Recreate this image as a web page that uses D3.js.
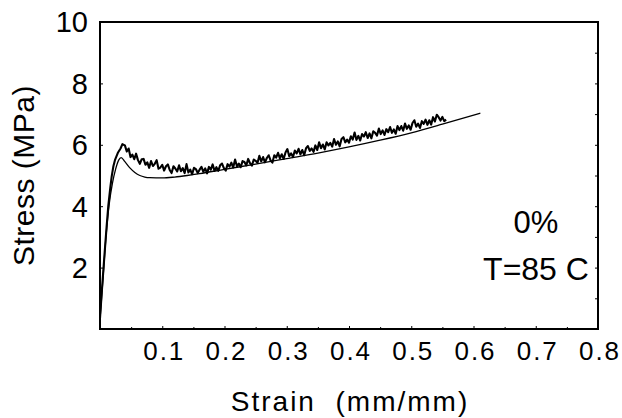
<!DOCTYPE html>
<html>
<head>
<meta charset="utf-8">
<script src="https://cdn.jsdelivr.net/npm/d3@7"></script>
<style>
	body { margin: 0; background: #fff; }
	text { font-family: "Liberation Sans", Arial, sans-serif; fill: #000; }
</style>
</head>
<body>
<div id="myChart"></div>
<script>

	// Axis ticks
	var xTicks = [0.1, 0.2, 0.3, 0.4, 0.5, 0.6, 0.7, 0.8];
	var xMinorTicks = [0.05, 0.15, 0.25, 0.35, 0.45, 0.55, 0.65, 0.75];
	var yTicks = [2, 4, 6, 8, 10];
	var yMinorTicks = [1, 3, 5, 7, 9];

	// Measured curve: loading part (strain, stress)
	var riseStrain = [0, 0.003, 0.0075, 0.0105, 0.0133, 0.0165, 0.0188, 0.0215, 0.024, 0.029, 0.033, 0.036];
	var riseStress = [0.35, 1.25, 2.5, 3.3, 4.0, 4.6, 4.97, 5.3, 5.5, 5.75, 5.88, 6.02];

	// Measured curve: after yield, sampled every 0.003 from strain 0.04
	var measStart = 0.04;
	var measStep = 0.003;
	var measStress = [
		5.98, 5.78, 5.88, 5.60, 5.68, 5.53, 5.71, 5.50, 5.38, 5.53,
		5.54, 5.35, 5.43, 5.25, 5.47, 5.31, 5.38, 5.50, 5.22, 5.26,
		5.35, 5.16, 5.30, 5.36, 5.18, 5.08, 5.30, 5.23, 5.13, 5.33,
		5.14, 5.24, 5.08, 5.37, 5.10, 5.19, 5.04, 5.25, 5.21, 5.08,
		5.19, 5.28, 5.12, 5.23, 5.07, 5.28, 5.19, 5.36, 5.15, 5.27,
		5.15, 5.33, 5.39, 5.24, 5.16, 5.37, 5.29, 5.42, 5.26, 5.52,
		5.30, 5.39, 5.27, 5.47, 5.44, 5.33, 5.54, 5.40, 5.32, 5.52,
		5.48, 5.41, 5.64, 5.46, 5.60, 5.43, 5.57, 5.66, 5.49, 5.42,
		5.66, 5.58, 5.74, 5.56, 5.69, 5.54, 5.75, 5.86, 5.63, 5.72,
		5.60, 5.81, 5.72, 5.87, 5.69, 5.83, 5.66, 5.89, 5.96, 5.80,
		5.88, 5.77, 5.98, 5.83, 6.08, 5.89, 6.01, 5.85, 6.08, 5.98,
		6.06, 5.94, 6.19, 6.00, 6.11, 5.95, 6.19, 6.25, 6.08, 6.17,
		6.07, 6.28, 6.17, 6.40, 6.16, 6.29, 6.14, 6.35, 6.27, 6.41,
		6.22, 6.37, 6.21, 6.44, 6.39, 6.30, 6.53, 6.35, 6.47, 6.32,
		6.51, 6.41, 6.58, 6.39, 6.50, 6.36, 6.61, 6.48, 6.61, 6.46,
		6.69, 6.52, 6.63, 6.49, 6.71, 6.80, 6.59, 6.69, 6.55, 6.77,
		6.68, 6.82, 6.65, 6.80, 6.66, 6.90, 6.76, 6.98, 6.90, 6.79,
		6.91, 6.77, 6.82
	];

	// Model curve (smooth)
	var modelStrain = [0, 0.005, 0.01, 0.015, 0.02, 0.025, 0.03, 0.034, 0.04, 0.048, 0.056, 0.064, 0.072, 0.08,
		0.1, 0.12, 0.14, 0.16, 0.2, 0.25, 0.3, 0.35, 0.4, 0.45, 0.5, 0.55, 0.611];
	var modelStress = [0.3, 1.7, 3.1, 4.1, 4.75, 5.2, 5.5, 5.58, 5.45, 5.25, 5.1, 5.0, 4.95, 4.93,
		4.92, 4.95, 5.0, 5.06, 5.2, 5.37, 5.55, 5.73, 5.93, 6.15, 6.39, 6.67, 7.03];

	var width = 622;
	var height = 418;

	var canvass = d3.select("#myChart")
		.append("svg")
		.attr("width", width)
		.attr("height", height);

	// plot frame edges
	var frame = {left: 100, right: 598, top: 22, bottom: 329};

	var xScale = d3.scaleLinear()
		.domain([0, 0.8])
		.range([frame.left, frame.right]);

	var yScale = d3.scaleLinear()
		.domain([0, 10])
		.range([frame.bottom, frame.top]);

	// tick marks inside the frame
	var bottomAxis = d3.axisBottom(xScale).tickValues(xTicks.slice(0, 7)).tickSize(-3).tickFormat("");
	canvass.append("g")
		.attr("transform", "translate(0," + frame.bottom + ")")
		.call(bottomAxis)
		.call(function(g) { g.select(".domain").remove(); });

	canvass.append("g")
		.attr("transform", "translate(0," + frame.bottom + ")")
		.call(d3.axisBottom(xScale).tickValues(xMinorTicks).tickSize(-2).tickFormat(""))
		.call(function(g) { g.select(".domain").remove(); });

	canvass.append("g")
		.attr("transform", "translate(" + frame.left + ",0)")
		.call(d3.axisLeft(yScale).tickValues(yTicks.slice(0, 4)).tickSize(-3).tickFormat(""))
		.call(function(g) { g.select(".domain").remove(); });

	canvass.append("g")
		.attr("transform", "translate(" + frame.right + ",0)")
		.call(d3.axisRight(yScale).tickValues(yTicks.slice(0, 4).concat(yMinorTicks)).tickSize(-3).tickFormat(""))
		.call(function(g) { g.select(".domain").remove(); });

	// tick labels
	canvass.append("g").selectAll("text")
		.data(xTicks)
		.enter()
		.append("text")
		.attr("x", function(d) { return xScale(d) + 2; })
		.attr("y", 360)
		.attr("text-anchor", "middle")
		.style("font-size", "26px")
		.style("letter-spacing", "2px")
		.text(function(d) { return d3.format(".1f")(d); });

	canvass.append("g").selectAll("text")
		.data(yTicks)
		.enter()
		.append("text")
		.attr("x", 88)
		.attr("y", function(d) { return yScale(d); })
		.attr("dy", "0.36em")
		.attr("text-anchor", "end")
		.style("font-size", "29px")
		.text(function(d) { return d; });

	// axis titles
	canvass.append("text")
		.attr("transform", "translate(34,175.5) rotate(-90)")
		.attr("text-anchor", "middle")
		.style("font-size", "30px")
		.style("letter-spacing", "0.5px")
		.text("Stress (MPa)");

	canvass.append("text")
		.attr("x", 350)
		.attr("y", 411)
		.attr("text-anchor", "middle")
		.style("font-size", "28px")
		.style("letter-spacing", "2px")
		.style("white-space", "pre")
		.text("Strain  (mm/mm)");

	// annotations
	canvass.append("text")
		.attr("x", 536)
		.attr("y", 233)
		.attr("text-anchor", "middle")
		.style("font-size", "31px")
		.text("0%");

	canvass.append("text")
		.attr("x", 536)
		.attr("y", 280)
		.attr("text-anchor", "middle")
		.style("font-size", "32px")
		.text("T=85 C");

	// curves
	var measData = [];
	for (var j = 0; j < riseStrain.length; j++) {
		measData.push([riseStrain[j], riseStress[j]]);
	}
	for (var k = 0; k < measStress.length; k++) {
		measData.push([measStart + k * measStep, measStress[k]]);
	}

	var modelData = [];
	for (var m = 0; m < modelStrain.length; m++) {
		modelData.push([modelStrain[m], modelStress[m]]);
	}

	var line = d3.line()
		.x(function(d) { return xScale(d[0]); })
		.y(function(d) { return yScale(d[1]); });

	canvass.append("path")
		.attr("fill", "none")
		.attr("stroke", "#000")
		.attr("stroke-width", 1.3)
		.attr("d", line.curve(d3.curveMonotoneX)(modelData));

	canvass.append("path")
		.attr("fill", "none")
		.attr("stroke", "#000")
		.attr("stroke-width", 2.1)
		.attr("stroke-linejoin", "round")
		.attr("d", line.curve(d3.curveLinear)(measData));

	// frame
	canvass.append("rect")
		.attr("x", frame.left)
		.attr("y", frame.top)
		.attr("width", frame.right - frame.left)
		.attr("height", frame.bottom - frame.top)
		.attr("fill", "none")
		.attr("stroke", "#000")
		.attr("stroke-width", 2);

</script>
</body>
</html>
